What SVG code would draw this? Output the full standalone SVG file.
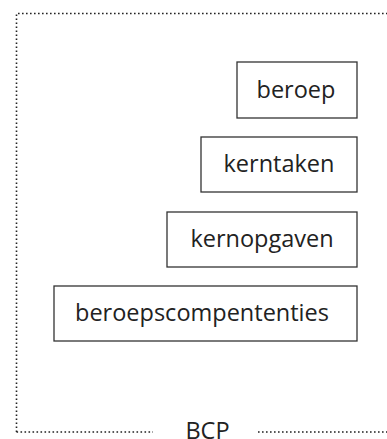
<svg xmlns="http://www.w3.org/2000/svg" width="387" height="439" viewBox="0 0 387 439">
<style>
.box{fill:#fff;stroke:#333;stroke-width:1.3}
.lbl{font-family:"Open Sans","Liberation Sans",sans-serif;font-size:23.5px;fill:#222;text-anchor:middle}
.dot{fill:none;stroke:#222;stroke-width:1.6;stroke-dasharray:1.6 2.4}
</style>
<rect width="387" height="439" fill="#fff"/>
<g id="frame">
<path class="dot" d="M16.5 432 V13.5 H387"/>
<path class="dot" d="M16.5 432 H153"/>
<path class="dot" d="M258 432 H387"/>
<text class="lbl" x="207.5" y="438.5">BCP</text>
</g>
<g id="beroep">
<rect class="box" x="237" y="62" width="120" height="56"/>
<text class="lbl" x="296" y="98">beroep</text>
</g>
<g id="kerntaken">
<rect class="box" x="201" y="137" width="156" height="55"/>
<text class="lbl" x="279" y="172">kerntaken</text>
</g>
<g id="kernopgaven">
<rect class="box" x="167" y="212" width="190" height="55"/>
<text class="lbl" x="262" y="247">kernopgaven</text>
</g>
<g id="beroepscompetenties">
<rect class="box" x="54" y="286" width="303" height="55"/>
<text class="lbl" x="202" y="321">beroepscompententies</text>
</g>
<g id="connectors"></g>
</svg>
